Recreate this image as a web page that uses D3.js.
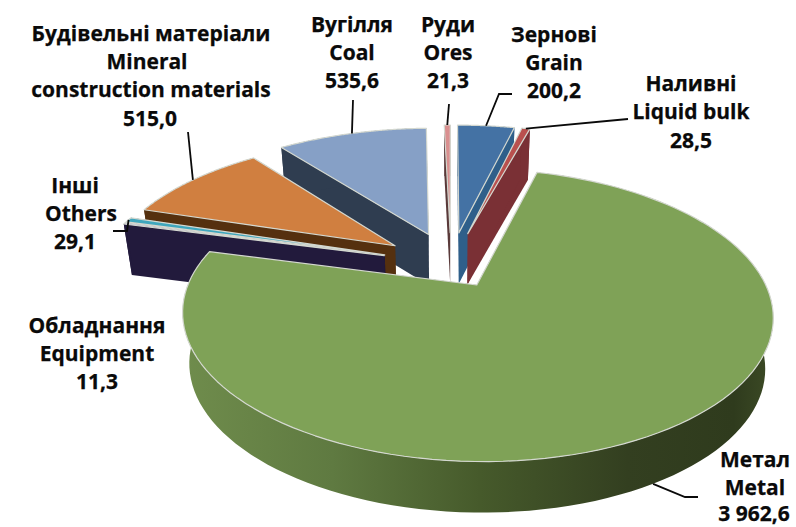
<!DOCTYPE html>
<html>
<head>
<meta charset="utf-8">
<script src="https://cdn.jsdelivr.net/npm/d3@7"></script>
<style>
  html, body { margin: 0; padding: 0; background: #fff; }
  text { font-family: "Open Sans", sans-serif; font-weight: 700; font-size: 21px; fill: #0a0a0a; stroke: #0a0a0a; stroke-width: 0.25px; }
</style>
</head>
<body>
<svg id="chart" width="796" height="527"></svg>
<script>
var categories = ['Зернові', 'Наливні', 'Метал', 'Обладнання', 'Інші', 'Будівельні матеріали', 'Вугілля', 'Руди'];
var categoriesEn = ['Grain', 'Liquid bulk', 'Metal', 'Equipment', 'Others', 'Mineral construction materials', 'Coal', 'Ores'];
var values = [200.2, 28.5, 3962.6, 11.3, 29.1, 515.0, 535.6, 21.3];
var valueLabels = ['200,2', '28,5', '3 962,6', '11,3', '29,1', '515,0', '535,6', '21,3'];

// styles per slice, same order as categories
var topColors = ['#4472a4', '#b9504e', '#7fa257', '#c9c6d8', '#3fa6bd', '#d07f40', '#86a0c6', '#d98f8f'];
var sideColors = ['#2f5f8a', '#7a3035', '#3a4a24', '#221a3c', '#221a3c', '#55300f', '#2f3d50', '#5a3a3a'];
var explode = [70, 70, 50, 70, 70, 70, 70, 70];
var radii = [305, 305, 280, 290, 290, 290, 298, 305];
var drawOrder = [7, 6, 5, 4, 3, 0, 1, 2];

const CX = 451, CY = 264, TILT = 0.47, PERSPECTIVE = 1400, DEPTH = 51, BOTTOM_SHRINK = 0.975;

var svg = d3.select('#chart');
var line = d3.line();
var pie = d3.pie().sort(null).startAngle(0).endAngle(2 * Math.PI);
var arcs = pie(values);

// flat pie point -> screen, z=1 is the bottom face
var project = function (i, angle, radius, z) {
    var mid = (arcs[i].startAngle + arcs[i].endAngle) / 2;
    var px = explode[i] * Math.sin(mid) + radius * Math.sin(angle);
    var py = -explode[i] * Math.cos(mid) - radius * Math.cos(angle);
    var w = 1 / (1 - py / PERSPECTIVE);
    return [CX + px * w * (z ? BOTTOM_SHRINK : 1), CY + py * TILT * w + z * DEPTH];
};

var rim = function (i, z) {
    var a0 = arcs[i].startAngle, a1 = arcs[i].endAngle;
    return d3.range(0, 121).map(function (n) {
        return project(i, a0 + (a1 - a0) * n / 120, radii[i], z);
    });
};

var defs = svg.append('defs');
var grad = defs.append('linearGradient').attr('id', 'metalSide')
    .attr('gradientUnits', 'userSpaceOnUse')
    .attr('x1', 185).attr('x2', 775).attr('y1', 0).attr('y2', 0);
[[0, '#6f8c4c'], [0.25, '#5f7a41'], [0.5, '#465a2b'], [0.75, '#333f20'], [0.93, '#2f3b1d'], [1, '#3d4c26']].forEach(function (s) {
    grad.append('stop').attr('offset', s[0]).attr('stop-color', s[1]);
});

var drawSlice = function (i) {
    var g = svg.append('g');
    var side = i === 2 ? 'url(#metalSide)' : sideColors[i];
    var cut = function (angle) {
        return [project(i, angle, 0, 0), project(i, angle, radii[i], 0), project(i, angle, radii[i], 1), project(i, angle, 0, 1)];
    };
    g.append('path').attr('d', line(cut(arcs[i].endAngle)) + 'Z').attr('fill', sideColors[i]);
    g.append('path').attr('d', line(cut(arcs[i].startAngle)) + 'Z').attr('fill', sideColors[i]);
    g.append('path').attr('d', line(rim(i, 0).concat(rim(i, 1).reverse())) + 'Z').attr('fill', side);
    g.append('path')
        .attr('d', line([project(i, 0, 0, 0)].concat(rim(i, 0))) + 'Z')
        .attr('fill', topColors[i])
        .attr('stroke', '#d4d8d0').attr('stroke-width', 1.2).attr('stroke-linejoin', 'round');
};
drawOrder.forEach(drawSlice);

// leaders start on the rim at the slice middle, elbows are layout
var leaders = [
    { i: 0, z: 0, pts: [[499, 94], [512, 94]] },
    { i: 1, z: 0, pts: [[628, 119]] },
    { i: 2, z: 1, pts: [[685, 497], [698, 497]] },
    { i: 4, z: 0, pts: [[127, 231], [113, 231]] },
    { i: 5, z: 0, pts: [[188, 132]] },
    { i: 6, z: 0, pts: [[353, 100]] },
    { i: 7, z: 0, pts: [[449, 104]] }
];
leaders.forEach(function (l) {
    var mid = (arcs[l.i].startAngle + arcs[l.i].endAngle) / 2;
    svg.append('path')
        .attr('d', line([project(l.i, mid, radii[l.i], l.z)].concat(l.pts)))
        .attr('fill', 'none').attr('stroke', '#0a0a0a').attr('stroke-width', 1.8);
});

// label lines: text, centre x, baseline y
var labelLines = [
    [categories[5], 151, 41], ['Mineral', 147, 69], ['construction materials', 151, 97], [valueLabels[5], 150, 126],
    [categories[6], 352, 32], [categoriesEn[6], 352, 60], [valueLabels[6], 352, 88],
    [categories[7], 448, 32], ['Ores', 448, 60], [valueLabels[7], 448, 88],
    [categories[0], 554, 42], [categoriesEn[0], 554, 70], [valueLabels[0], 554, 98],
    [categories[1], 691, 91], [categoriesEn[1], 691, 119], [valueLabels[1], 691, 148],
    [categories[4], 75, 193], [categoriesEn[4], 81, 221], [valueLabels[4], 75, 249],
    [categories[3], 97, 333], [categoriesEn[3], 97, 361], [valueLabels[3], 97, 389],
    [categories[2], 755, 467], ['Metal', 755, 495], [valueLabels[2], 754, 521]
];
svg.selectAll('text').data(labelLines).enter().append('text')
    .attr('x', function (d) { return d[1]; })
    .attr('y', function (d) { return d[2]; })
    .attr('text-anchor', 'middle')
    .text(function (d) { return d[0]; });
</script>
</body>
</html>
